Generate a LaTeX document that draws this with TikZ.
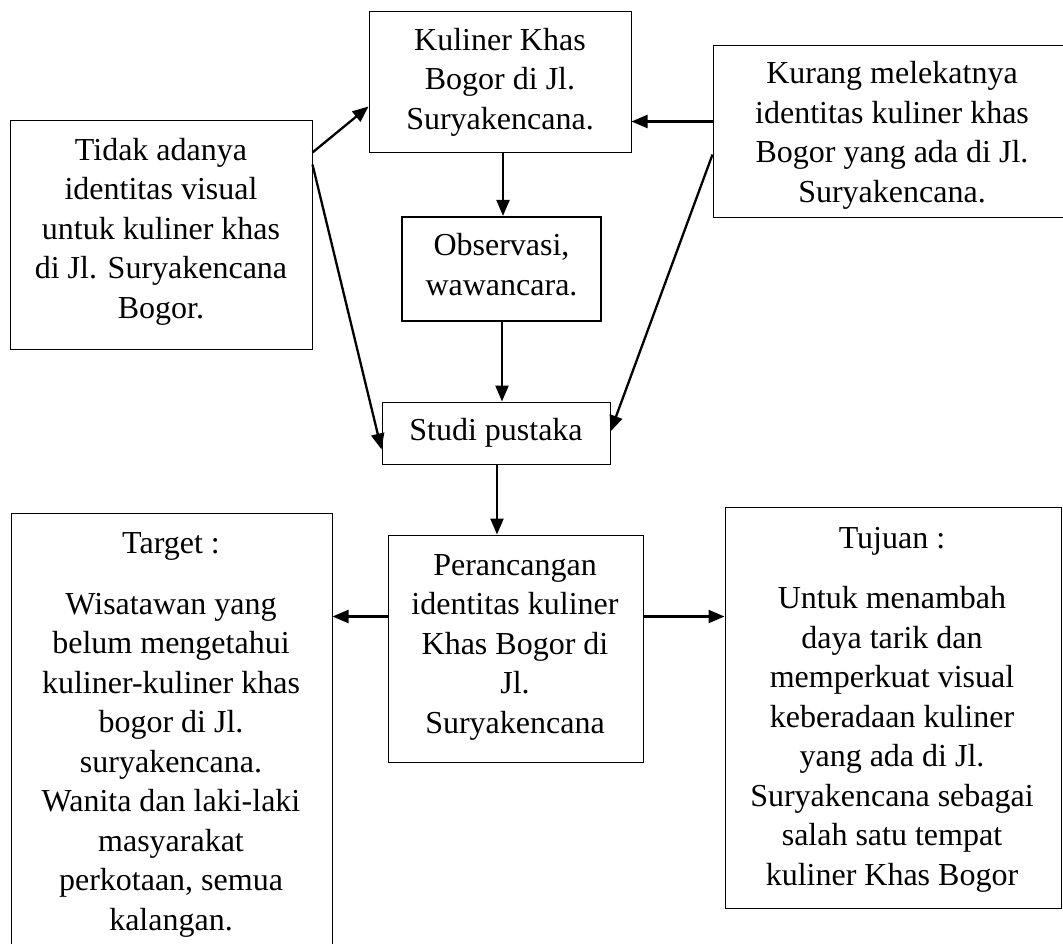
\documentclass[tikz,border=0pt]{standalone}
\usepackage{fontspec}
\setmainfont{Liberation Serif}
\usetikzlibrary{arrows.meta}
\tikzset{
  box/.style={draw=black, line width=1pt, inner sep=0pt, rectangle},
  thickbox/.style={box, line width=2.2pt},
  txt/.style={inner sep=0pt, align=center, anchor=base, font=\fontsize{32}{39.5}\selectfont},
  arr/.style={line width=2.3pt, -{Triangle[length=16pt,width=13pt]}},
}
\begin{document}
\begin{tikzpicture}[x=1pt,y=-1pt]
\useasboundingbox (0,0) rectangle (1063,943);
\clip (0,0) rectangle (1063,943);
% boxes
\node[box, minimum width=302pt, minimum height=229pt] (A) at (161,234.5) {};
\node[box, minimum width=262pt, minimum height=141pt] (K) at (500,81.5) {};
\node[thickbox, minimum width=199pt, minimum height=104pt] (O) at (501.5,269) {};
\node[box, minimum width=228pt, minimum height=62pt] (S) at (496,433) {};
\node[box, minimum width=362pt, minimum height=172pt] (R) at (894,131) {};
\node[box, minimum width=255pt, minimum height=227pt] (P) at (515.5,648.5) {};
\node[box, minimum width=321pt, minimum height=457pt] (T) at (171.5,741.5) {};
\node[box, minimum width=336pt, minimum height=401pt] (U) at (893,707.5) {};
% texts (anchor = baseline of the last line)
\node[txt] (At) at (161,318) {Tidak adanya\\identitas visual\\untuk kuliner khas\\di Jl. Suryakencana\\Bogor.};
\node[txt] (Kt) at (500,129) {Kuliner Khas\\Bogor di Jl.\\Suryakencana.};
\node[txt] (Ot) at (501.5,295) {Observasi,\\wawancara.};
\node[txt] (St) at (496,440) {Studi pustaka};
\begin{scope}
\clip (713,45) rectangle (1075,210);
\node[txt] (Rt) at (892,202) {Kurang melekatnya\\identitas kuliner khas\\Bogor yang ada di Jl.\\Suryakencana.};
\end{scope}
\node[txt] (Pt) at (515,733) {Perancangan\\identitas kuliner\\Khas Bogor di\\Jl.\\Suryakencana};
\node[txt] (Tt) at (171,930) {Target :\\[21pt]Wisatawan yang\\belum mengetahui\\kuliner-kuliner khas\\bogor di Jl.\\suryakencana.\\Wanita dan laki-laki\\masyarakat\\perkotaan, semua\\kalangan.};
\node[txt] (Ut) at (892,885) {Tujuan :\\[21pt]Untuk menambah\\daya tarik dan\\memperkuat visual\\keberadaan kuliner\\yang ada di Jl.\\Suryakencana sebagai\\salah satu tempat\\kuliner Khas Bogor};
% connectors
\coordinate (a1) at ([yshift=-33pt]A.north east);
\coordinate (k1) at ([yshift=-96pt]K.north west);
\draw[arr] (a1) -- (k1);
\coordinate (a2) at ([yshift=-45pt]A.north east);
\coordinate (s1) at ([yshift=-48pt]S.north west);
\draw[arr] (a2) -- (s1);
\draw[arr] ([xshift=3pt]K.south) -- ([xshift=3pt]K.south |- O.north);
\draw[arr] ([xshift=0.5pt]O.south) -- ([xshift=0.5pt]O.south |- S.north);
\coordinate (r1) at ([yshift=-77pt]R.north west);
\draw[arr] (r1) -- (r1 -| K.east);
\coordinate (r2) at ([yshift=-110pt]R.north west);
\coordinate (s2) at ([yshift=-30pt]S.north east);
\draw[arr] (r2) -- (s2);
\draw[arr] ([xshift=1pt]S.south) -- ([xshift=1pt]S.south |- P.north);
\coordinate (p1) at ([yshift=-82pt]P.north west);
\draw[arr] (p1) -- (p1 -| T.east);
\coordinate (p2) at ([yshift=-82pt]P.north east);
\draw[arr] (p2) -- (p2 -| U.west);
\end{tikzpicture}
\end{document}
